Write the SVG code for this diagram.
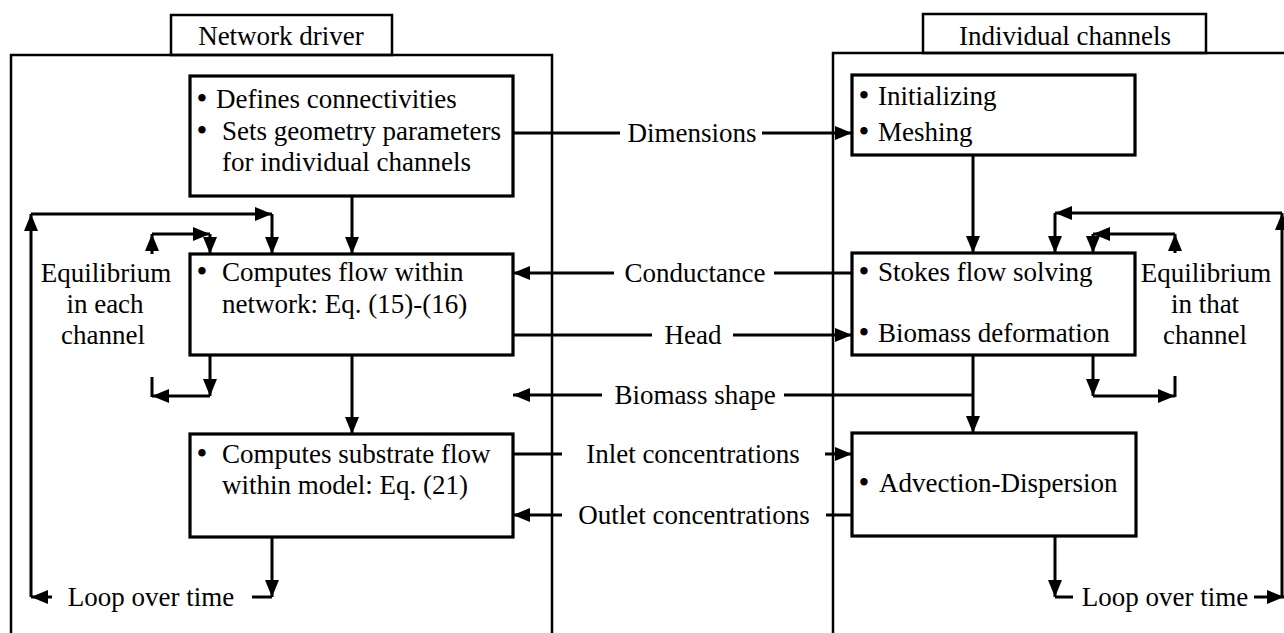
<svg xmlns="http://www.w3.org/2000/svg" width="1284" height="633" viewBox="0 0 1284 633">
<defs>
<style>
text{font-family:"Liberation Serif","Times New Roman",serif;font-size:27px;fill:#000}
.mid{text-anchor:middle}
.b{font-size:31px;text-anchor:middle}
.cont{fill:none;stroke:#000;stroke-width:2.5}
.box{fill:#fff;stroke:#000;stroke-width:3.2}
.ln{fill:none;stroke:#000;stroke-width:3}
.ar{fill:none;stroke:#000;stroke-width:3;marker-end:url(#ah)}
</style>
<marker id="ah" markerUnits="userSpaceOnUse" markerWidth="17" markerHeight="14" refX="17" refY="7" orient="auto">
<path d="M0,0 L17,7 L0,14 z" fill="#000"/>
</marker>
</defs>
<rect width="1284" height="633" fill="#fff"/>

<g id="network-driver">
<path class="cont" d="M11 633 V55 H552 V633"/>
<rect class="cont" x="171" y="15" width="221" height="40" fill="#fff"/>
<text class="mid" x="281" y="45">Network driver</text>
</g>

<g id="individual-channels">
<path class="cont" d="M833 633 V53 H1286"/>
<rect class="cont" x="923" y="14" width="283" height="39" fill="#fff"/>
<text class="mid" x="1065" y="45">Individual channels</text>
</g>

<g id="connectors">
<path class="ar" d="M352 196 V254"/>
<path class="ar" d="M352 355 V434"/>
<path class="ar" d="M973 155 V253"/>
<path class="ar" d="M973 355 V433"/>
<path class="ln" d="M513 133 H620"/>
<path class="ar" d="M762 133 H852"/>
<path class="ln" d="M852 273 H774"/>
<path class="ar" d="M614 273 H513"/>
<path class="ln" d="M513 335 H652"/>
<path class="ar" d="M733 335 H852"/>
<path class="ln" d="M784 395 H973"/>
<path class="ar" d="M602 395 H513"/>
<path class="ln" d="M513 454 H562"/>
<path class="ar" d="M825 454 H852"/>
<path class="ln" d="M852 515 H826"/>
<path class="ar" d="M562 515 H513"/>
<path class="ar" d="M272 537 V597"/>
<path class="ln" d="M252 597 H272"/>
<path class="ar" d="M52 597 H31"/>
<path class="ar" d="M31 597 V214"/>
<path class="ar" d="M31 214 H272"/>
<path class="ar" d="M272 214 V254"/>
<path class="ar" d="M1055 536 V597"/>
<path class="ln" d="M1055 597 H1073"/>
<path class="ar" d="M1254 597 H1284"/>
<path class="ar" d="M1282 597 V213"/>
<path class="ar" d="M1282 213 H1055"/>
<path class="ar" d="M1055 213 V253"/>
<path class="ar" d="M152 254 V234"/>
<path class="ar" d="M152 234 H210"/>
<path class="ar" d="M210 234 V254"/>
<path class="ar" d="M210 355 V396"/>
<path class="ar" d="M210 396 H152"/>
<path class="ln" d="M152 397 V377"/>
<path class="ar" d="M1175 253 V234"/>
<path class="ar" d="M1175 234 H1093"/>
<path class="ar" d="M1093 234 V253"/>
<path class="ar" d="M1093 355 V396"/>
<path class="ar" d="M1093 396 H1175"/>
<path class="ln" d="M1175 397 V376"/>
</g>

<g id="labels">
<text class="mid" x="692" y="142">Dimensions</text>
<text class="mid" x="695" y="282">Conductance</text>
<text class="mid" x="693" y="344">Head</text>
<text class="mid" x="695" y="404">Biomass shape</text>
<text class="mid" x="693" y="463">Inlet concentrations</text>
<text class="mid" x="694" y="524">Outlet concentrations</text>
<text class="mid" x="151" y="606">Loop over time</text>
<text class="mid" x="1165" y="606">Loop over time</text>
</g>

<g id="eq-left">
<text class="mid" x="106" y="282">Equilibrium</text>
<text class="mid" x="105" y="313">in each</text>
<text class="mid" x="103" y="344">channel</text>
</g>

<g id="eq-right">
<text class="mid" x="1206" y="282">Equilibrium</text>
<text class="mid" x="1205" y="313">in that</text>
<text class="mid" x="1205" y="344">channel</text>
</g>

<g id="box-defines">
<rect class="box" x="190" y="76" width="323" height="120"/>
<text class="b" x="202" y="109">•</text>
<text x="216" y="108">Defines connectivities</text>
<text class="b" x="202" y="141">•</text>
<text x="222" y="140">Sets geometry parameters</text>
<text x="222" y="171">for individual channels</text>
</g>

<g id="box-flow">
<rect class="box" x="190" y="254" width="323" height="101"/>
<text class="b" x="202" y="282">•</text>
<text x="222" y="281">Computes flow within</text>
<text x="222" y="313">network: Eq. (15)-(16)</text>
</g>

<g id="box-substrate">
<rect class="box" x="190" y="434" width="323" height="103"/>
<text class="b" x="202" y="464">•</text>
<text x="222" y="463">Computes substrate flow</text>
<text x="222" y="494">within model: Eq. (21)</text>
</g>

<g id="box-init">
<rect class="box" x="852" y="75" width="283" height="80"/>
<text class="b" x="864" y="106">•</text>
<text x="878" y="105">Initializing</text>
<text class="b" x="864" y="142">•</text>
<text x="878" y="141">Meshing</text>
</g>

<g id="box-stokes">
<rect class="box" x="852" y="253" width="283" height="102"/>
<text class="b" x="864" y="282">•</text>
<text x="878" y="281">Stokes flow solving</text>
<text class="b" x="864" y="343">•</text>
<text x="878" y="342">Biomass deformation</text>
</g>

<g id="box-advection">
<rect class="box" x="852" y="433" width="284" height="103"/>
<text class="b" x="864" y="493">•</text>
<text x="879" y="492">Advection-Dispersion</text>
</g>
</svg>
